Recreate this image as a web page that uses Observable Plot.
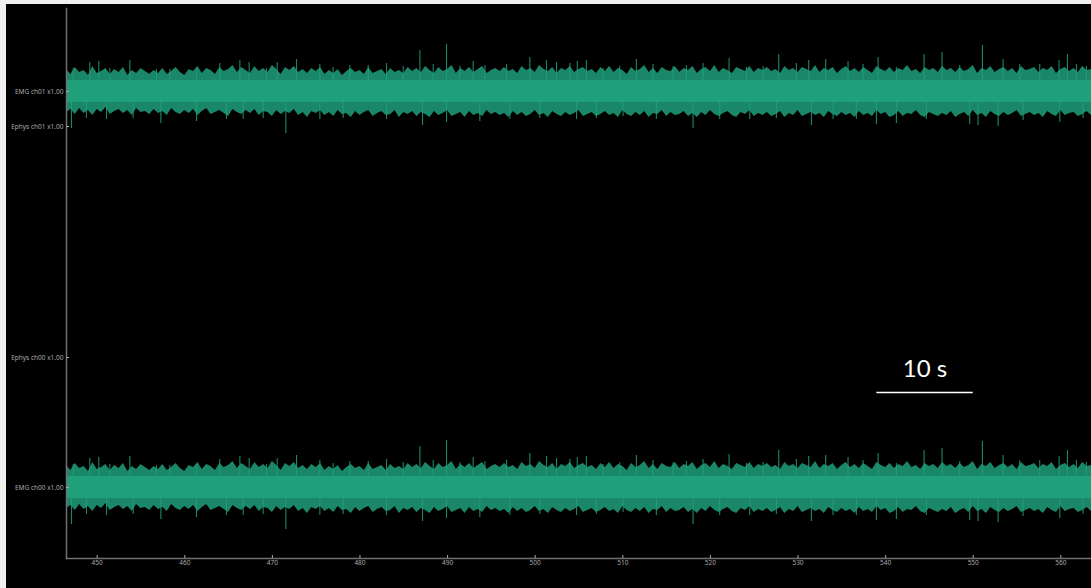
<!DOCTYPE html>
<html>
<head>
<meta charset="utf-8">
<script src="https://cdn.jsdelivr.net/npm/d3@7"></script>
<script src="https://cdn.jsdelivr.net/npm/@observablehq/plot@0.6"></script>
<style>
  html, body { margin: 0; padding: 0; background: #f0f0f0; }
  #chart { position: absolute; left: 6px; top: 4px; width: 1085px; height: 584px; background: #000; }
  #chart svg { display: block; }
</style>
</head>
<body>
<div id="chart"></div>
<script>
// ---- channels (y-axis rows) ----
const channelNames   = ["EMG ch00 x1.00", "Ephys ch00 x1.00", "Ephys ch01 x1.00", "EMG ch01 x1.00"];
const channelOffsets = [71, 201, 432, 467];
const emgChannels    = ["EMG ch00 x1.00", "EMG ch01 x1.00"];

// ---- time axis ----
const timeDomain = [446.5, 563.5];
const xTicks = [450, 460, 470, 480, 490, 500, 510, 520, 530, 540, 550, 560];

// ---- EMG envelope, every 0.5 s starting at 446.5 s ----
const envStart = 446.5, envStep = 0.5;
const envHi = [
  22,17,24,19,21,16,25,18,20,23,17,22,19,24,16,21,18,23,20,17,
  21,18,23,17,20,24,19,16,22,20,25,18,23,21,17,24,20,22,26,19,
  24,21,18,25,20,23,19,26,22,17,24,21,25,19,22,18,23,20,24,17,
  21,18,22,16,20,23,19,21,17,24,18,20,22,17,23,19,21,18,24,20,
  23,19,25,21,18,24,20,22,26,18,23,20,24,19,22,25,18,21,23,20,
  24,20,22,18,25,21,23,19,26,22,20,24,18,23,21,25,19,22,24,20,
  22,18,24,20,25,19,23,21,17,24,20,22,26,19,23,18,24,21,20,25,
  19,23,21,25,18,22,24,20,26,19,23,21,18,24,22,20,25,19,23,21,
  24,20,22,18,25,21,23,19,24,22,20,26,19,23,21,24,18,22,25,20,
  23,19,24,21,18,25,22,20,24,19,23,21,26,20,22,18,24,21,23,19,
  25,21,23,19,24,20,22,26,18,23,21,25,19,22,24,20,23,18,25,21,
  22,24,19,23,21,25,18,22,24,20,23,19,25,21,22];
const envLo = [
  21,18,23,17,22,19,24,18,21,16,23,20,18,22,19,24,17,21,20,23,
  18,22,20,24,17,21,23,19,22,18,24,20,17,23,21,19,22,25,18,21,
  23,19,22,18,24,20,21,25,19,23,20,22,18,24,21,26,20,22,19,24,
  21,25,19,23,22,26,20,24,21,19,25,22,20,24,23,19,26,21,23,20,
  25,21,23,26,20,24,22,19,25,23,21,26,20,24,22,25,19,23,21,24,
  22,26,20,24,21,25,23,19,24,22,26,20,23,25,21,24,22,19,25,23,
  21,25,23,20,24,22,26,19,23,25,21,24,20,26,22,23,19,25,21,24,
  23,20,25,22,26,21,24,19,23,25,22,20,24,26,21,23,19,25,22,24,
  21,25,23,20,26,22,24,19,25,23,21,24,22,26,20,23,25,21,24,22,
  26,20,24,22,25,19,23,21,26,24,20,25,22,23,19,24,26,21,23,25,
  22,24,20,26,23,21,25,19,24,22,26,20,23,25,21,24,22,19,25,23,
  21,24,22,26,20,23,25,19,24,22,21,25,23,20,24];
const coreHalfWidth = 11;

// ---- notable spikes: time (s) and excursion (+ up / - down) ----
const spikeTimes = [447.26,449.16,450.19,451.45,453.73,456.77,458.30,461.34,464.00,466.29,467.35,469.33,470.55,472.76,475.42,476.94,478.84,480.94,483.03,484.93,486.84,488.36,489.88,491.40,492.92,494.26,496.73,499.39,501.29,502.44,503.96,504.8,
  505.84,507.74,509.65,511.55,513.45,515.74,517.26,519.16,522.13,524.11,526.01,527.80,529.81,531.22,533.16,535.71,537.42,539.14,541.23,544.39,546.44,548.46,551.05,553.41,555.31,557.59,559.80,560.75,561.78,562.92,
  447.07,448.78,451.07,454.11,457.27,461.34,464.76,466.67,468.95,471.54,475.42,478.08,483.03,487.14,489.88,493.68,497.11,500.53,504.72,
  506.98,510.03,513.83,518.02,521.06,524.49,527.53,531.53,534.00,536.66,538.95,541.23,544.65,549.60,550.55,552.84,555.69,559.88,562.54];
const spikeValues = [23,29,30,23,31,22,22,23,28,31,29,23,29,32,27,24,26,26,28,25,41,27,47,25,30,26,27,34,31,29,28,30,
  31,23,25,32,27,25,26,28,33,24,25,37,28,31,32,30,27,34,24,37,39,26,46,32,27,27,31,37,27,25,
  -37,-27,-28,-27,-32,-30,-28,-28,-27,-42,-28,-27,-28,-34,-31,-30,-28,-27,-28,
  -27,-25,-28,-37,-28,-28,-27,-34,-28,-28,-33,-32,-28,-33,-34,-35,-29,-31,-27];

// ---- scale bar annotation ----
const scaleBarStart = 539, scaleBarEnd = 550, scaleBarLevel = 166, scaleBarLabelLevel = 189;
const scaleBarLabel = "10 s";

// ---- build tables ----
const offsetOf = name => channelOffsets[channelNames.indexOf(name)];
const envRows = [];
const spikeRows = [];
for (const ch of emgChannels) {
  const off = offsetOf(ch);
  envHi.forEach((h, i) => envRows.push({ch, t: envStart + i * envStep, hi: off + h, lo: off - envLo[i], c1: off - coreHalfWidth, c2: off + coreHalfWidth}));
  spikeTimes.forEach((t, i) => spikeRows.push({ch, t, y1: off, y2: off + spikeValues[i]}));
}

const green = "#1fa07a";
const chart = Plot.plot({
  width: 1085,
  height: 584,
  marginLeft: 60,
  marginRight: 0,
  marginTop: 4,
  marginBottom: 30,
  style: {background: "#000", color: "#a8a8a8", fontFamily: "'Noto Sans', sans-serif"},
  x: {domain: timeDomain},
  y: {domain: [0, 550]},
  marks: [
    Plot.areaY(envRows, {x: "t", y1: "lo", y2: "hi", z: "ch", fill: green, fillOpacity: 0.85}),
    Plot.ruleX(spikeRows, {x: "t", y1: "y1", y2: "y2", stroke: green, strokeWidth: 1.1, strokeOpacity: 0.85}),
    Plot.areaY(envRows, {x: "t", y1: "c1", y2: "c2", z: "ch", fill: green}),
    Plot.frame({anchor: "left", stroke: "#707070", strokeWidth: 1.5}),
    Plot.frame({anchor: "bottom", stroke: "#707070", strokeWidth: 1.5}),
    Plot.axisY({ticks: channelOffsets, tickFormat: (d) => channelNames[channelOffsets.indexOf(d)], tickSize: -3, tickPadding: 6, fontSize: 6.5, label: null}),
    Plot.axisX({ticks: xTicks, tickSize: -3, tickPadding: 5, fontSize: 6.5, label: null}),
    Plot.ruleY([scaleBarLevel], {x1: scaleBarStart, x2: scaleBarEnd, stroke: "#ffffff", strokeWidth: 1.5}),
    Plot.text([scaleBarLabel], {x: (scaleBarStart + scaleBarEnd) / 2, y: scaleBarLabelLevel, text: d => d, fill: "#ffffff", fontSize: 24, fontFamily: "Lato, 'Open Sans', sans-serif"})
  ]
});
document.getElementById("chart").appendChild(chart);
</script>
</body>
</html>
